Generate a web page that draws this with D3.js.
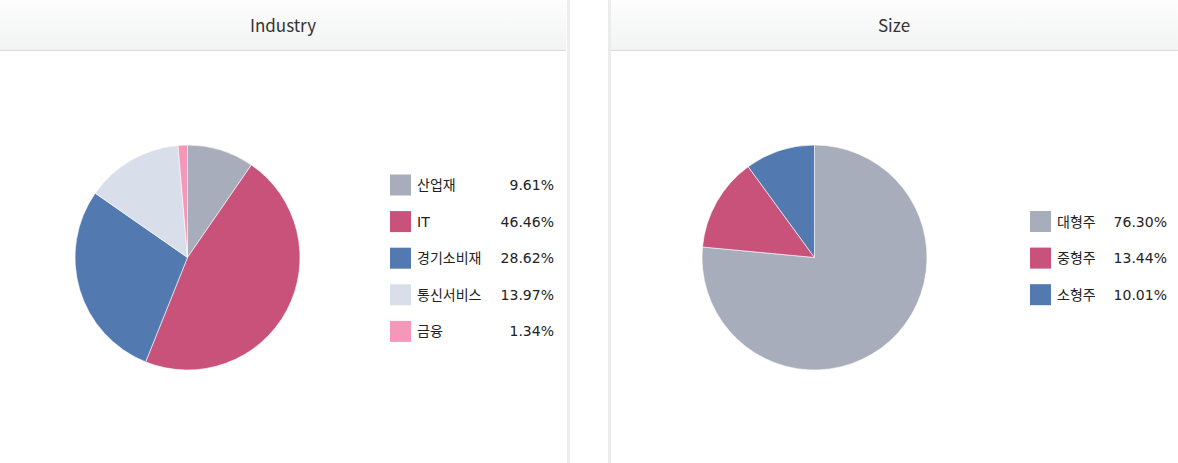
<!DOCTYPE html>
<html lang="ko">
<head>
    <meta charset="UTF-8">
    <title>Industry / Size</title>
    <style>
        body { margin: 0; background: #fff; }
        svg { display: block; font-family: "Noto Sans CJK KR", "Noto Sans", sans-serif; }
        .lg { font-family: "DejaVu Sans", "Noto Sans CJK KR", sans-serif; }
    </style>
    <script src="https://cdnjs.cloudflare.com/ajax/libs/d3/7.8.5/d3.min.js"></script>
</head>
<body>
    <script>
        const industryNames = ['산업재', 'IT', '경기소비재', '통신서비스', '금융']
        const industryValues = [9.61, 46.46, 28.62, 13.97, 1.34]
        const industryColors = ['#a7adba', '#c9527a', '#527ab1', '#d9dfea', '#f497b9']

        const sizeNames = ['대형주', '중형주', '소형주']
        const sizeValues = [76.30, 13.44, 10.01]
        const sizeColors = ['#a7adba', '#c9527a', '#527ab1']

        const width = 1178
        const height = 463

        const svg = d3.select('body').append('svg').attr('width', width).attr('height', height)

        const grad = svg.append('defs').append('linearGradient')
            .attr('id', 'hdr').attr('x1', 0).attr('y1', 0).attr('x2', 0).attr('y2', 1)
        grad.append('stop').attr('offset', '0%').attr('stop-color', '#fdfdfd')
        grad.append('stop').attr('offset', '100%').attr('stop-color', '#f2f3f3')

        // panels: x, width, title, pie center, legend setup
        const panels = [
            { x: 0, w: 567, title: 'Industry', names: industryNames, values: industryValues, colors: industryColors,
              cx: 187.5, legendX: 390, valueX: 554, legendY: 185 },
            { x: 611, w: 567, title: 'Size', names: sizeNames, values: sizeValues, colors: sizeColors,
              cx: 814.5, legendX: 1030, valueX: 1167, legendY: 221.5 }
        ]

        // separators between panels
        svg.append('rect').attr('x', 567).attr('y', 0).attr('width', 3).attr('height', height).attr('fill', '#ececec')
        svg.append('rect').attr('x', 608).attr('y', 0).attr('width', 3).attr('height', height).attr('fill', '#ececec')

        const radius = 112.5
        const cy = 257.5
        const rowGap = 36.6

        panels.forEach(p => {
            const g = svg.append('g')
            g.append('rect').attr('x', p.x).attr('y', 0).attr('width', p.w - (p.x === 0 ? 1 : 0)).attr('height', 50)
                .attr('fill', 'url(#hdr)')
            g.append('rect').attr('x', p.x).attr('y', 50).attr('width', p.w - (p.x === 0 ? 1 : 0)).attr('height', 1)
                .attr('fill', '#dcdcdc')
            g.append('text')
                .attr('x', p.x + (p.w - 1) / 2).attr('y', 24)
                .attr('text-anchor', 'middle').attr('dominant-baseline', 'central')
                .attr('font-size', 17).attr('fill', '#333')
                .text(p.title)

            const pie = d3.pie().sort(null).value(d => d)
            const arc = d3.arc().innerRadius(0).outerRadius(radius)
            const data = pie(p.values)

            g.append('g')
                .attr('transform', `translate(${p.cx}, ${cy})`)
                .selectAll('path')
                .data(data)
                .enter()
                .append('path')
                .attr('d', arc)
                .attr('fill', (d, i) => p.colors[i])
                .attr('stroke', '#ffffff')
                .attr('stroke-width', 0.6)
                .attr('stroke-linejoin', 'round')

            const legend = g.append('g')
                .attr('class', 'lg')
                .selectAll('g')
                .data(p.names)
                .enter()
                .append('g')
                .attr('transform', (d, i) => `translate(0, ${p.legendY + i * rowGap})`)

            legend.append('rect')
                .attr('x', p.legendX).attr('y', -10.5)
                .attr('width', 21).attr('height', 21)
                .attr('fill', (d, i) => p.colors[i])
            legend.append('text')
                .attr('x', p.legendX + 27).attr('y', 0)
                .attr('dominant-baseline', 'central')
                .attr('font-size', 14).attr('fill', '#222')
                .text(d => d)
            legend.append('text')
                .attr('x', p.valueX).attr('y', 0)
                .attr('text-anchor', 'end')
                .attr('dominant-baseline', 'central')
                .attr('font-size', 14).attr('fill', '#222')
                .text((d, i) => p.values[i].toFixed(2) + '%')
        })
    </script>
</body>
</html>
